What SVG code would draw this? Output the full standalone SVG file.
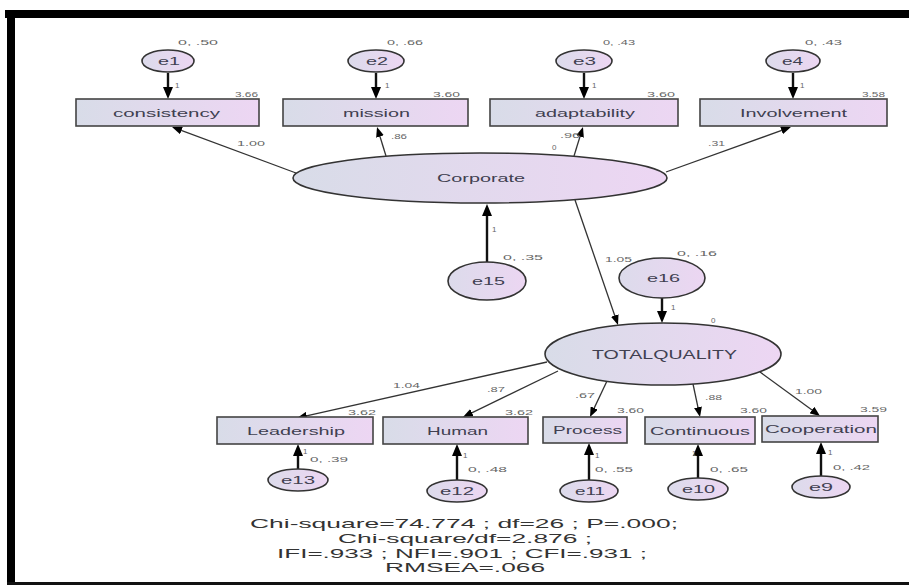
<svg xmlns="http://www.w3.org/2000/svg" width="909" height="585" viewBox="0 0 909 585">
<defs>
<linearGradient id="gNode" x1="0" y1="0" x2="1" y2="0">
<stop offset="0" stop-color="#d8dce8"/>
<stop offset="1" stop-color="#edd6f3"/>
</linearGradient>
<linearGradient id="gErr" x1="0" y1="0" x2="1" y2="0">
<stop offset="0" stop-color="#dcdbeb"/>
<stop offset="1" stop-color="#ecd6f2"/>
</linearGradient>
<marker id="ah" markerUnits="userSpaceOnUse" markerWidth="10" markerHeight="8" refX="6" refY="4" orient="auto">
<path d="M0,0 L10,4 L0,8 z" fill="#000"/>
</marker>
<marker id="ahb" markerUnits="userSpaceOnUse" markerWidth="12" markerHeight="10" refX="7" refY="5" orient="auto">
<path d="M0,0 L12,5 L0,10 z" fill="#000"/>
</marker>
</defs>
<style>
.obs{fill:url(#gNode);stroke:#444;stroke-width:1.6}
.lat{fill:url(#gNode);stroke:#333;stroke-width:1.6}
.err{fill:url(#gErr);stroke:#333;stroke-width:1.6}
.lbl{font-family:"Liberation Sans",Arial,sans-serif;font-size:11px;fill:#404050}
.elbl{font-family:"Liberation Sans",Arial,sans-serif;font-size:10px;fill:#404050}
.num{font-family:"Liberation Sans",Arial,sans-serif;font-size:8px;fill:#666}
.fit{font-family:"Liberation Sans",Arial,sans-serif;font-size:13px;fill:#333}
.c{stroke:#333;stroke-width:1.3;fill:none;marker-end:url(#ah)}
.ce{stroke:#111;stroke-width:2.4;fill:none;marker-end:url(#ahb)}
</style>
<rect x="0" y="0" width="909" height="585" fill="#fff"/>
<!-- frame -->
<g id="frame">
<rect x="5" y="10" width="904" height="8" fill="#000"/>
<rect x="7" y="10" width="8" height="575" fill="#000"/>
<rect x="7" y="582" width="902" height="3" fill="#111"/>
</g>
<!-- connectors -->
<g id="connectors">
<line class="ce" x1="168" y1="73" x2="168" y2="94"/>
<line class="ce" x1="376" y1="73" x2="376" y2="94"/>
<line class="ce" x1="584" y1="73" x2="584" y2="94"/>
<line class="ce" x1="793" y1="73" x2="793" y2="94"/>
<line class="c" x1="296" y1="173" x2="175.8" y2="128.4"/>
<line class="c" x1="386" y1="156" x2="378.2" y2="130.8"/>
<line class="c" x1="574" y1="156" x2="581.8" y2="130.8"/>
<line class="c" x1="666" y1="172" x2="787.2" y2="128.4"/>
<line class="ce" x1="487" y1="262" x2="487" y2="209"/>
<line class="c" x1="575" y1="200" x2="616.7" y2="321.2"/>
<line class="ce" x1="662" y1="298" x2="662" y2="318"/>
<line class="c" x1="547" y1="362" x2="300.9" y2="417.1"/>
<line class="c" x1="558" y1="371" x2="466.6" y2="415.3"/>
<line class="c" x1="607" y1="381" x2="591.7" y2="413.4"/>
<line class="c" x1="693" y1="384" x2="699.2" y2="413.1"/>
<line class="c" x1="760" y1="372" x2="816.8" y2="413.6"/>
<line class="ce" x1="298" y1="469" x2="298" y2="449"/>
<line class="ce" x1="457" y1="480" x2="457" y2="449"/>
<line class="ce" x1="589" y1="480" x2="589" y2="448"/>
<line class="ce" x1="698" y1="478" x2="698" y2="449"/>
<line class="ce" x1="821" y1="476" x2="821" y2="447"/>
</g>
<!-- connector labels -->
<g id="connector-labels">
<text class="num" x="175" y="88">1</text>
<text class="num" x="385" y="88">1</text>
<text class="num" x="592" y="88">1</text>
<text class="num" x="800" y="88">1</text>
<text class="num" x="237" y="146" textLength="28" lengthAdjust="spacingAndGlyphs">1.00</text>
<text class="num" x="391" y="139" textLength="16" lengthAdjust="spacingAndGlyphs">.86</text>
<text class="num" x="560" y="138" textLength="20" lengthAdjust="spacingAndGlyphs">.96</text>
<text class="num" x="708" y="146" textLength="17" lengthAdjust="spacingAndGlyphs">.31</text>
<text class="num" x="492" y="232">1</text>
<text class="num" x="605" y="262" textLength="27" lengthAdjust="spacingAndGlyphs">1.05</text>
<text class="num" x="671" y="310">1</text>
<text class="num" x="393" y="388" textLength="27" lengthAdjust="spacingAndGlyphs">1.04</text>
<text class="num" x="487" y="392" textLength="18" lengthAdjust="spacingAndGlyphs">.87</text>
<text class="num" x="575" y="398" textLength="20" lengthAdjust="spacingAndGlyphs">.67</text>
<text class="num" x="705" y="400" textLength="17" lengthAdjust="spacingAndGlyphs">.88</text>
<text class="num" x="795" y="394" textLength="27" lengthAdjust="spacingAndGlyphs">1.00</text>
<text class="num" x="303" y="454">1</text>
<text class="num" x="463" y="458">1</text>
<text class="num" x="595" y="458">1</text>
<text class="num" x="692" y="456">1</text>
<text class="num" x="828" y="455">1</text>
</g>
<!-- top error terms -->
<g id="e1"><ellipse class="err" cx="168" cy="61" rx="26" ry="11"/><text class="elbl" x="158" y="65" textLength="22" lengthAdjust="spacingAndGlyphs">e1</text><text class="num" x="178" y="45" textLength="40" lengthAdjust="spacingAndGlyphs">0, .50</text></g>
<g id="e2"><ellipse class="err" cx="376" cy="61" rx="28" ry="11"/><text class="elbl" x="366" y="65" textLength="22" lengthAdjust="spacingAndGlyphs">e2</text><text class="num" x="387" y="45" textLength="36" lengthAdjust="spacingAndGlyphs">0, .66</text></g>
<g id="e3"><ellipse class="err" cx="584" cy="61" rx="28" ry="11"/><text class="elbl" x="573" y="65" textLength="23" lengthAdjust="spacingAndGlyphs">e3</text><text class="num" x="603" y="45" textLength="32" lengthAdjust="spacingAndGlyphs">0, .43</text></g>
<g id="e4"><ellipse class="err" cx="793" cy="61" rx="27" ry="11"/><text class="elbl" x="782" y="65" textLength="21" lengthAdjust="spacingAndGlyphs">e4</text><text class="num" x="805" y="45" textLength="37" lengthAdjust="spacingAndGlyphs">0, .43</text></g>
<!-- top observed -->
<g id="consistency"><rect class="obs" x="76" y="99" width="183" height="27"/><text class="lbl" x="113" y="117" textLength="107" lengthAdjust="spacingAndGlyphs">consistency</text><text class="num" x="235" y="97" textLength="23" lengthAdjust="spacingAndGlyphs">3.66</text></g>
<g id="mission"><rect class="obs" x="283" y="99" width="185" height="27"/><text class="lbl" x="343" y="117" textLength="67" lengthAdjust="spacingAndGlyphs">mission</text><text class="num" x="433" y="97" textLength="27" lengthAdjust="spacingAndGlyphs">3.60</text></g>
<g id="adaptability"><rect class="obs" x="490" y="99" width="188" height="27"/><text class="lbl" x="535" y="117" textLength="100" lengthAdjust="spacingAndGlyphs">adaptability</text><text class="num" x="647" y="97" textLength="28" lengthAdjust="spacingAndGlyphs">3.60</text></g>
<g id="involvement"><rect class="obs" x="700" y="99" width="187" height="27"/><text class="lbl" x="740" y="117" textLength="107" lengthAdjust="spacingAndGlyphs">Involvement</text><text class="num" x="862" y="97" textLength="23" lengthAdjust="spacingAndGlyphs">3.58</text></g>
<!-- Corporate -->
<g id="corporate"><ellipse class="lat" cx="480" cy="178" rx="187" ry="25"/><text class="lbl" x="437" y="182" textLength="88" lengthAdjust="spacingAndGlyphs">Corporate</text><text class="num" x="552" y="150">0</text></g>
<g id="e15"><ellipse class="err" cx="487" cy="281" rx="39" ry="19"/><text class="elbl" x="472" y="285" textLength="33" lengthAdjust="spacingAndGlyphs">e15</text><text class="num" x="503" y="260" textLength="40" lengthAdjust="spacingAndGlyphs">0, .35</text></g>
<g id="e16"><ellipse class="err" cx="662" cy="278" rx="43" ry="20"/><text class="elbl" x="647" y="282" textLength="33" lengthAdjust="spacingAndGlyphs">e16</text><text class="num" x="677" y="256" textLength="40" lengthAdjust="spacingAndGlyphs">0, .16</text></g>
<!-- TOTALQUALITY -->
<g id="totalquality"><ellipse class="lat" cx="663" cy="354" rx="118" ry="31"/><text class="lbl" style="font-size:12px" x="592" y="359" textLength="145" lengthAdjust="spacingAndGlyphs">TOTALQUALITY</text><text class="num" x="711" y="323">0</text></g>
<!-- bottom observed -->
<g id="leadership"><rect class="obs" x="217" y="417" width="156" height="27"/><text class="lbl" x="247" y="435" textLength="98" lengthAdjust="spacingAndGlyphs">Leadership</text><text class="num" x="348" y="415" textLength="28" lengthAdjust="spacingAndGlyphs">3.62</text></g>
<g id="human"><rect class="obs" x="383" y="417" width="145" height="27"/><text class="lbl" x="427" y="435" textLength="61" lengthAdjust="spacingAndGlyphs">Human</text><text class="num" x="505" y="415" textLength="28" lengthAdjust="spacingAndGlyphs">3.62</text></g>
<g id="process"><rect class="obs" x="543" y="417" width="84" height="26"/><text class="lbl" x="553" y="434" textLength="69" lengthAdjust="spacingAndGlyphs">Process</text><text class="num" x="617" y="413" textLength="27" lengthAdjust="spacingAndGlyphs">3.60</text></g>
<g id="continuous"><rect class="obs" x="645" y="417" width="110" height="27"/><text class="lbl" x="650" y="435" textLength="100" lengthAdjust="spacingAndGlyphs">Continuous</text><text class="num" x="740" y="413" textLength="27" lengthAdjust="spacingAndGlyphs">3.60</text></g>
<g id="cooperation"><rect class="obs" x="762" y="416" width="116" height="26"/><text class="lbl" x="765" y="433" textLength="112" lengthAdjust="spacingAndGlyphs">Cooperation</text><text class="num" x="860" y="412" textLength="27" lengthAdjust="spacingAndGlyphs">3.59</text></g>
<!-- bottom errors -->
<g id="e13"><ellipse class="err" cx="298" cy="480" rx="30" ry="11"/><text class="elbl" x="281" y="484" textLength="34" lengthAdjust="spacingAndGlyphs">e13</text><text class="num" x="310" y="462" textLength="38" lengthAdjust="spacingAndGlyphs">0, .39</text></g>
<g id="e12"><ellipse class="err" cx="457" cy="491" rx="30" ry="11"/><text class="elbl" x="440" y="495" textLength="34" lengthAdjust="spacingAndGlyphs">e12</text><text class="num" x="468" y="472" textLength="39" lengthAdjust="spacingAndGlyphs">0, .48</text></g>
<g id="e11"><ellipse class="err" cx="589" cy="491" rx="29" ry="11"/><text class="elbl" x="575" y="495" textLength="30" lengthAdjust="spacingAndGlyphs">e11</text><text class="num" x="595" y="472" textLength="38" lengthAdjust="spacingAndGlyphs">0, .55</text></g>
<g id="e10"><ellipse class="err" cx="698" cy="489" rx="30" ry="11"/><text class="elbl" x="682" y="493" textLength="33" lengthAdjust="spacingAndGlyphs">e10</text><text class="num" x="710" y="472" textLength="38" lengthAdjust="spacingAndGlyphs">0, .65</text></g>
<g id="e9"><ellipse class="err" cx="821" cy="487" rx="29" ry="11"/><text class="elbl" x="809" y="491" textLength="24" lengthAdjust="spacingAndGlyphs">e9</text><text class="num" x="833" y="470" textLength="37" lengthAdjust="spacingAndGlyphs">0, .42</text></g>
<!-- fit statistics -->
<g id="fit">
<text class="fit" x="250" y="528" textLength="428" lengthAdjust="spacingAndGlyphs">Chi-square=74.774 ; df=26 ; P=.000;</text>
<text class="fit" x="338" y="543" textLength="254" lengthAdjust="spacingAndGlyphs">Chi-square/df=2.876 ;</text>
<text class="fit" x="277" y="558" textLength="370" lengthAdjust="spacingAndGlyphs">IFI=.933 ; NFI=.901 ; CFI=.931 ;</text>
<text class="fit" x="385" y="572" textLength="160" lengthAdjust="spacingAndGlyphs">RMSEA=.066</text>
</g>
</svg>
